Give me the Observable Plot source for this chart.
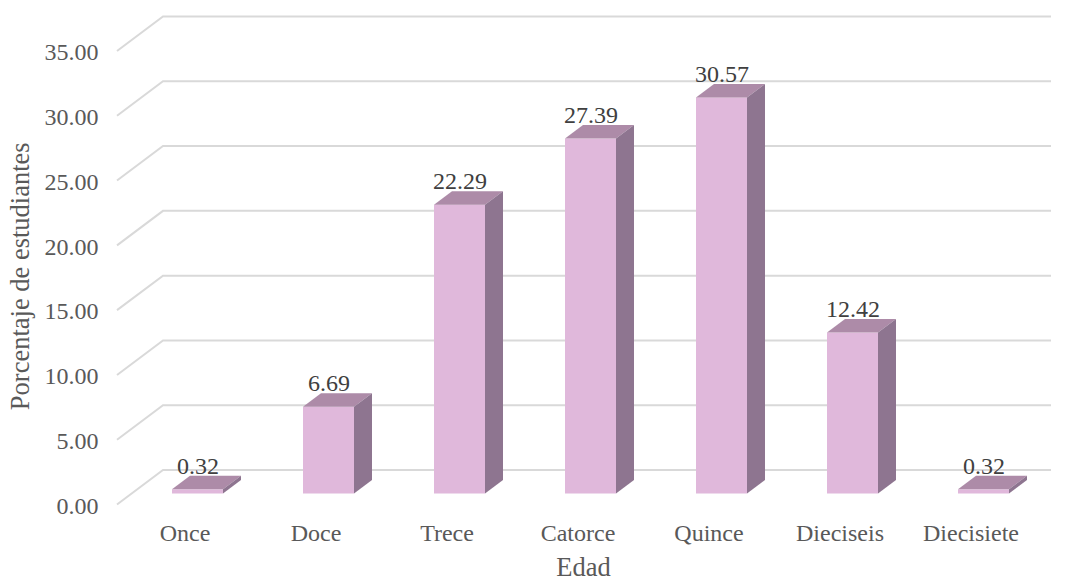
<!DOCTYPE html>
<html><head><meta charset="utf-8">
<script src="https://cdn.jsdelivr.net/npm/d3@7"></script>
<script src="https://cdn.jsdelivr.net/npm/@observablehq/plot@0.6"></script>
<style>
body{margin:0;background:#fff}
#chart svg, #chart svg text, #chart svg g {font-family:'Liberation Serif','Times New Roman',serif !important;}
</style>
</head><body><div id="chart"></div>
<script>
const categories = ["Once","Doce","Trece","Catorce","Quince","Dieciseis","Diecisiete"];
const values = [0.32, 6.69, 22.29, 27.39, 30.57, 12.42, 0.32];
const yTicks = [0, 5, 10, 15, 20, 25, 30, 35];
const xTitle = "Edad";
const yTitle = "Porcentaje de estudiantes";

const data = categories.map((c, i) => ({cat: c, value: values[i]}));

const FRONT = "#E0B8DB", TOP = "#AD8BA8", SIDE = "#8E7590", GRID = "#D9D9D9";
const DX = 18, DY = -13.5;
const FONT = "'Liberation Serif','Times New Roman',serif";

function grid(index, scales, vals, dims) {
  const y = scales.y;
  const g = d3.create("svg:g");
  const xl = dims.marginLeft, xr = dims.width - dims.marginRight;
  for (const t of yTicks) {
    const yb = y(t) - 23.5, yf = y(t) + 11;
    g.append("path")
      .attr("d", `M${xl - 14},${yf}L${xl + 32},${yb}L${xr},${yb}`)
      .attr("fill", "none").attr("stroke", GRID).attr("stroke-width", 2);
  }
  return g.node();
}

function faces(index, scales, vals, dims) {
  const {x, y} = scales;
  const bw = typeof x.bandwidth === "function" ? x.bandwidth() : 51;
  const g = d3.create("svg:g");
  for (const d of data) {
    const x0 = x(d.cat), x1 = x0 + bw, yt = y(d.value), yb = y(0);
    g.append("path")
      .attr("d", `M${x0},${yt}L${x0 + DX},${yt + DY}L${x1 + DX},${yt + DY}L${x1},${yt}Z`)
      .attr("fill", TOP);
    g.append("path")
      .attr("d", `M${x1},${yt}L${x1 + DX},${yt + DY}L${x1 + DX},${yb + DY}L${x1},${yb}Z`)
      .attr("fill", SIDE);
  }
  return g.node();
}

const chart = Plot.plot({
  width: 1071,
  height: 582,
  marginLeft: 131,
  marginRight: 20,
  marginTop: 40,
  marginBottom: 88.5,
  style: {fontFamily: FONT, color: "#595959", background: "#fff", overflow: "visible"},
  x: {type: "band", domain: categories, paddingInner: 0.61, paddingOuter: 0.305, label: null},
  y: {domain: [0, 35], label: null},
  marks: [
    grid,
    Plot.barY(data, {x: "cat", y: "value", fill: FRONT}),
    faces,
    Plot.text(data, {x: "cat", y: "value", text: d => d.value.toFixed(2), dy: -24, fontSize: 24, fontFamily: FONT, fill: "#404040"}),
    Plot.axisY(yTicks, {tickSize: 0, tickPadding: 33, dy: 12, fontSize: 24, fontFamily: FONT, tickFormat: d => d.toFixed(2), label: null}),
    Plot.axisX({tickSize: 0, tickPadding: 30, dx: -13, fontSize: 24, fontFamily: FONT, label: null}),
    Plot.text([xTitle], {frameAnchor: "bottom", dx: -8, dy: 74, fontSize: 26.5, fontFamily: FONT, lineAnchor: "middle", text: d => d}),
    Plot.text([yTitle], {frameAnchor: "left", textAnchor: "middle", rotate: -90, dx: -111, dy: 9, fontSize: 26.5, fontFamily: FONT, text: d => d})
  ]
});
document.getElementById("chart").append(chart);
</script>
</body></html>
